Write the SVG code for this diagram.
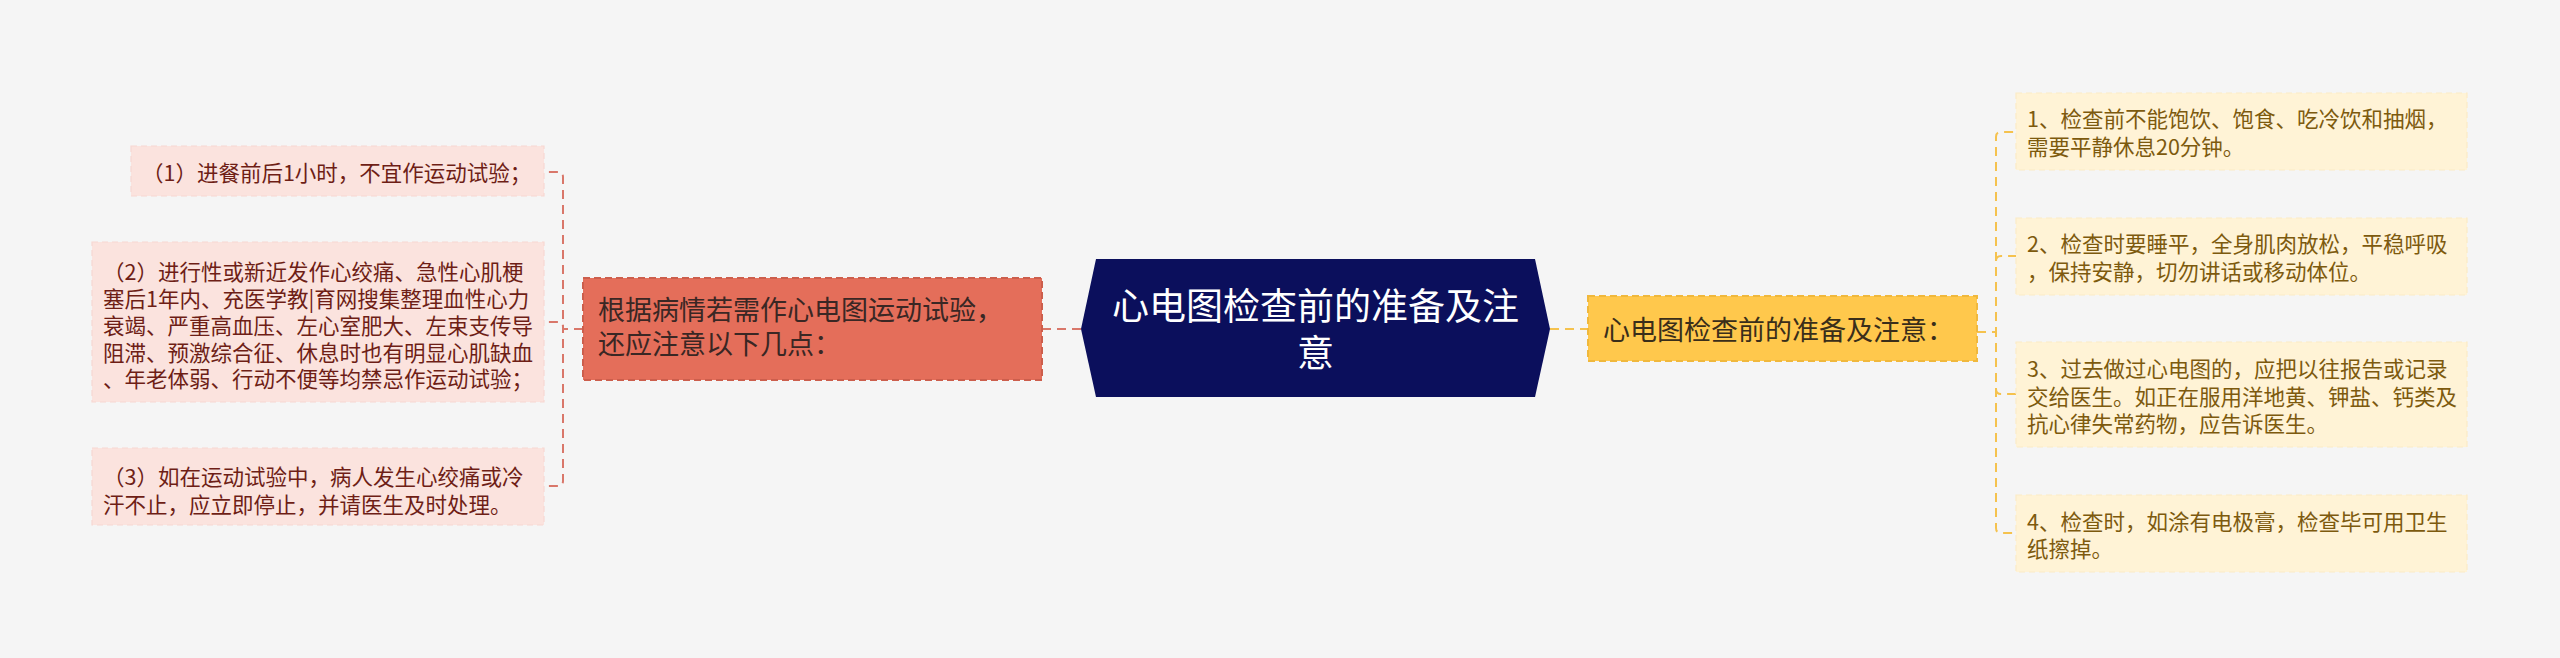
<svg xmlns="http://www.w3.org/2000/svg" width="2560" height="658" viewBox="0 0 2560 658">
<style>
text{font-family:"Noto Sans CJK SC","Noto Sans",sans-serif;}
.lbox{fill:#FBE3DE;stroke:#F7D8D2;stroke-width:1.2;stroke-dasharray:6 4;}
.ltxt{fill:#6E1E16;font-size:21.5px;}
.rbox{fill:#FFF3D6;stroke:#FCEBC6;stroke-width:1.2;stroke-dasharray:6 4;}
.rtxt{fill:#7D5A0E;font-size:21.5px;}
.lcon{fill:none;stroke:#D9776A;stroke-width:2;stroke-dasharray:9 6;}
.rcon{fill:none;stroke:#F5C24E;stroke-width:2;stroke-dasharray:9 6;}
</style>
<rect x="0" y="0" width="2560" height="658" fill="#F5F5F5"/>
<g id="connectors">
<path class="lcon" d="M583 329 H563 V177 Q563 172 558 172 H544"/>
<path class="lcon" d="M583 329 H563 V327 Q563 322 558 322 H544"/>
<path class="lcon" d="M583 329 H563 V481 Q563 486 558 486 H544"/>
<path class="lcon" d="M1042 329 H1081"/>
<path class="rcon" d="M1550 329 H1588"/>
<path class="rcon" d="M1977 332 H1996 V137 Q1996 132 2001 132 H2016"/>
<path class="rcon" d="M1977 332 H1996 V261 Q1996 256 2001 256 H2016"/>
<path class="rcon" d="M1977 332 H1996 V389 Q1996 394 2001 394 H2016"/>
<path class="rcon" d="M1977 332 H1996 V528 Q1996 533 2001 533 H2016"/>
</g>
<g id="center">
<polygon points="1096,259 1535,259 1550,329 1535,397 1096,397 1081,329" fill="#0B0F5C"/>
<text x="1315.5" y="320" text-anchor="middle" fill="#FFFFFF" font-size="37">心电图检查前的准备及注</text>
<text x="1315.5" y="367" text-anchor="middle" fill="#FFFFFF" font-size="37">意</text>
</g>
<g id="left-main">
<rect x="583" y="278" width="459" height="102" fill="#E46E5A" stroke="#CC5E4C" stroke-width="2" stroke-dasharray="7 4"/>
<text x="598" y="320" fill="#3A2724" font-size="27">根据病情若需作心电图运动试验，</text>
<text x="598" y="354" fill="#3A2724" font-size="27">还应注意以下几点：</text>
</g>
<g id="left-1">
<rect class="lbox" x="131" y="146" width="413" height="50"/>
<text class="ltxt" x="142" y="181">（1）进餐前后1小时，不宜作运动试验；</text>
</g>
<g id="left-2">
<rect class="lbox" x="92" y="242" width="452" height="160"/>
<text class="ltxt" x="103" y="280">（2）进行性或新近发作心绞痛、急性心肌梗</text>
<text class="ltxt" x="103" y="307">塞后1年内、充医学教|育网搜集整理血性心力</text>
<text class="ltxt" x="103" y="334">衰竭、严重高血压、左心室肥大、左束支传导</text>
<text class="ltxt" x="103" y="360.5">阻滞、预激综合征、休息时也有明显心肌缺血</text>
<text class="ltxt" x="103" y="387">、年老体弱、行动不便等均禁忌作运动试验；</text>
</g>
<g id="left-3">
<rect class="lbox" x="92" y="448" width="452" height="77"/>
<text class="ltxt" x="103" y="485">（3）如在运动试验中，病人发生心绞痛或冷</text>
<text class="ltxt" x="103" y="512.5">汗不止，应立即停止，并请医生及时处理。</text>
</g>
<g id="right-main">
<rect x="1588" y="296" width="389" height="65" fill="#FFC84C" stroke="#F0B83C" stroke-width="2" stroke-dasharray="7 4"/>
<text x="1603" y="340" fill="#3A2E1A" font-size="27">心电图检查前的准备及注意：</text>
</g>
<g id="right-1">
<rect class="rbox" x="2016" y="93" width="451" height="77"/>
<text class="rtxt" x="2027" y="127">1、检查前不能饱饮、饱食、吃冷饮和抽烟，</text>
<text class="rtxt" x="2027" y="155">需要平静休息20分钟。</text>
</g>
<g id="right-2">
<rect class="rbox" x="2016" y="218" width="451" height="77"/>
<text class="rtxt" x="2027" y="252">2、检查时要睡平，全身肌肉放松，平稳呼吸</text>
<text class="rtxt" x="2027" y="280">，保持安静，切勿讲话或移动体位。</text>
</g>
<g id="right-3">
<rect class="rbox" x="2016" y="342" width="451" height="105"/>
<text class="rtxt" x="2027" y="377">3、过去做过心电图的，应把以往报告或记录</text>
<text class="rtxt" x="2027" y="405">交给医生。如正在服用洋地黄、钾盐、钙类及</text>
<text class="rtxt" x="2027" y="432">抗心律失常药物，应告诉医生。</text>
</g>
<g id="right-4">
<rect class="rbox" x="2016" y="495" width="451" height="77"/>
<text class="rtxt" x="2027" y="530">4、检查时，如涂有电极膏，检查毕可用卫生</text>
<text class="rtxt" x="2027" y="557">纸擦掉。</text>
</g>
</svg>
